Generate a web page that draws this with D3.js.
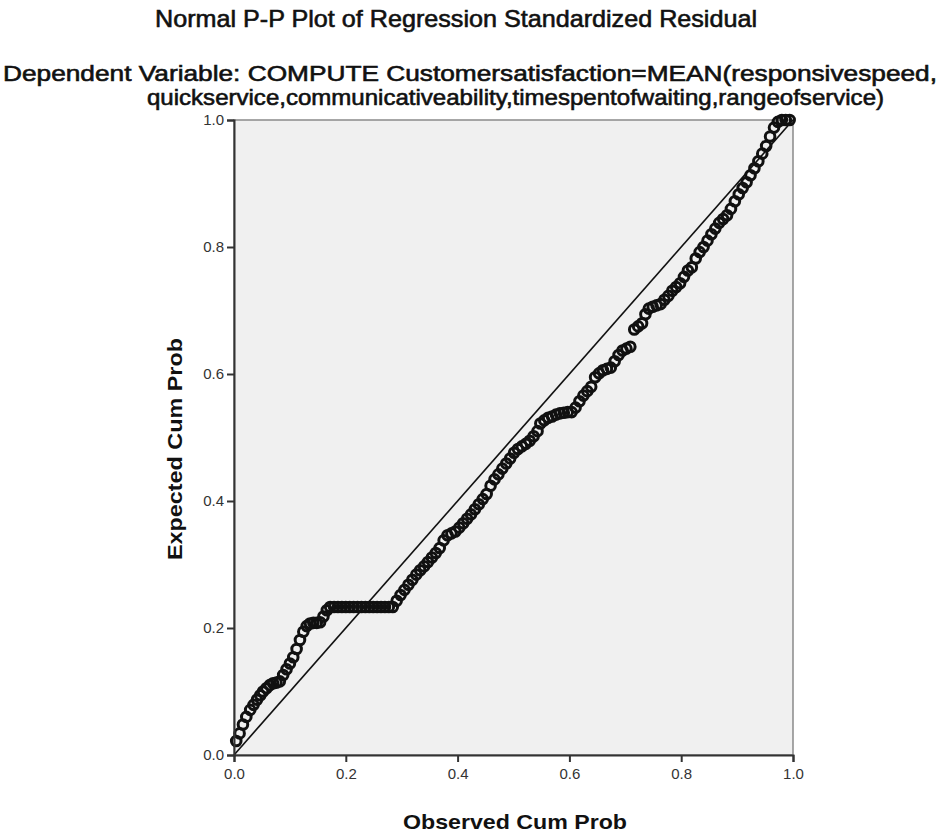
<!DOCTYPE html>
<html>
<head>
<meta charset="utf-8">
<script src="https://cdn.jsdelivr.net/npm/d3@7"></script>
<style>
  body { margin: 0; background: #fff; }
  text { font-family: "Liberation Sans", Arial, sans-serif; }
</style>
</head>
<body>
<div id="chart"></div>
<script>
const width = 940, height = 835;

// observed vs expected cumulative probability
const obsCumProb = [
  0.004, 0.010, 0.016, 0.022, 0.029, 0.035, 0.041, 0.047, 0.052, 0.058,
  0.064, 0.070, 0.076, 0.082, 0.088, 0.094, 0.100, 0.106, 0.112, 0.118,
  0.124, 0.130, 0.136, 0.142, 0.148, 0.154, 0.160, 0.166, 0.172, 0.179,
  0.186, 0.193, 0.200, 0.207, 0.214, 0.221, 0.228, 0.235, 0.242, 0.249,
  0.256, 0.263, 0.270, 0.277, 0.284, 0.291, 0.298, 0.305, 0.312, 0.319,
  0.326, 0.333, 0.340, 0.347, 0.354, 0.361, 0.368, 0.375, 0.382, 0.389,
  0.396, 0.403, 0.410, 0.417, 0.424, 0.431, 0.438, 0.445, 0.452, 0.459,
  0.466, 0.473, 0.480, 0.487, 0.494, 0.501, 0.508, 0.515, 0.522, 0.529,
  0.536, 0.543, 0.548, 0.555, 0.562, 0.569, 0.576, 0.583, 0.590, 0.597,
  0.604, 0.611, 0.618, 0.625, 0.632, 0.639, 0.646, 0.653, 0.660, 0.667,
  0.674, 0.681, 0.688, 0.695, 0.702, 0.709, 0.716, 0.723, 0.730, 0.736,
  0.742, 0.749, 0.756, 0.763, 0.770, 0.777, 0.784, 0.791, 0.798, 0.805,
  0.812, 0.819, 0.826, 0.833, 0.840, 0.847, 0.854, 0.861, 0.868, 0.875,
  0.882, 0.889, 0.896, 0.903, 0.910, 0.917, 0.924, 0.931, 0.938, 0.945,
  0.952, 0.959, 0.966, 0.973, 0.980, 0.987, 0.994
];
const expCumProb = [
  0.022, 0.034, 0.048, 0.060, 0.071, 0.079, 0.087, 0.094, 0.100, 0.105,
  0.110, 0.113, 0.114, 0.116, 0.126, 0.135, 0.144, 0.154, 0.167, 0.181,
  0.194, 0.203, 0.207, 0.208, 0.208, 0.209, 0.218, 0.228, 0.233, 0.233,
  0.233, 0.233, 0.233, 0.233, 0.233, 0.233, 0.233, 0.233, 0.233, 0.233,
  0.233, 0.233, 0.233, 0.233, 0.233, 0.243, 0.252, 0.260, 0.268, 0.276,
  0.284, 0.291, 0.297, 0.304, 0.311, 0.318, 0.326, 0.338, 0.346, 0.349,
  0.352, 0.358, 0.365, 0.372, 0.379, 0.387, 0.395, 0.403, 0.411, 0.424,
  0.434, 0.442, 0.451, 0.459, 0.467, 0.476, 0.482, 0.486, 0.490, 0.495,
  0.502, 0.510, 0.522, 0.527, 0.531, 0.533, 0.536, 0.538, 0.539, 0.540,
  0.540, 0.547, 0.557, 0.566, 0.573, 0.580, 0.595, 0.601, 0.606, 0.608,
  0.610, 0.620, 0.630, 0.637, 0.640, 0.643, 0.670, 0.675, 0.680, 0.694,
  0.703, 0.706, 0.708, 0.710, 0.717, 0.723, 0.731, 0.737, 0.743, 0.753,
  0.763, 0.768, 0.782, 0.792, 0.800, 0.810, 0.820, 0.829, 0.838, 0.844,
  0.850, 0.860, 0.872, 0.883, 0.893, 0.902, 0.913, 0.924, 0.935, 0.947,
  0.959, 0.974, 0.988, 0.997, 1.000, 1.000, 1.000
];
const tickValues = [0.0, 0.2, 0.4, 0.6, 0.8, 1.0];

const margin = {top: 120, right: 147, bottom: 80, left: 234};

const svg = d3.select("#chart").append("svg")
  .attr("width", width)
  .attr("height", height);

const x = d3.scaleLinear([0, 1], [margin.left, width - margin.right]);
const y = d3.scaleLinear([0, 1], [height - margin.bottom, margin.top]);

// titles (SPSS draws these a bit heavy, so a hairline stroke is added)
svg.append("text")
  .attr("x", 155).attr("y", 27)
  .attr("textLength", 602).attr("lengthAdjust", "spacingAndGlyphs")
  .style("font-size", "24px").style("fill", "#111")
  .style("stroke", "#111").style("stroke-width", "0.6px")
  .text("Normal P-P Plot of Regression Standardized Residual");

svg.append("text")
  .attr("x", 3).attr("y", 81)
  .attr("textLength", 934).attr("lengthAdjust", "spacingAndGlyphs")
  .style("font-size", "22px").style("fill", "#111")
  .style("stroke", "#111").style("stroke-width", "0.6px")
  .text("Dependent Variable: COMPUTE Customersatisfaction=MEAN(responsivespeed,");

svg.append("text")
  .attr("x", 147).attr("y", 105)
  .attr("textLength", 737).attr("lengthAdjust", "spacingAndGlyphs")
  .style("font-size", "22px").style("fill", "#111")
  .style("stroke", "#111").style("stroke-width", "0.6px")
  .text("quickservice,communicativeability,timespentofwaiting,rangeofservice)");

// plot background
svg.append("rect")
  .attr("x", x(0)).attr("y", y(1))
  .attr("width", x(1) - x(0)).attr("height", y(0) - y(1))
  .attr("fill", "#f0f0f0")
  .attr("stroke", "#8a8a8a")
  .attr("stroke-width", 1.5);

// reference line
svg.append("line")
  .attr("x1", x(0)).attr("y1", y(0))
  .attr("x2", x(1)).attr("y2", y(1))
  .attr("stroke", "#111")
  .attr("stroke-width", 1.6);

// points
svg.append("g")
  .selectAll("circle")
  .data(obsCumProb.map((d, i) => [d, expCumProb[i]]))
  .join("circle")
  .attr("cx", d => x(d[0]))
  .attr("cy", d => y(d[1]))
  .attr("r", 4.8)
  .attr("fill", "none")
  .attr("stroke", "#111")
  .attr("stroke-width", 3);

// axes
const xAxis = svg.append("g")
  .attr("transform", `translate(0,${y(0)})`)
  .call(d3.axisBottom(x).tickValues(tickValues).tickFormat(d3.format(".1f")).tickSize(7).tickPadding(6));
const yAxis = svg.append("g")
  .attr("transform", `translate(${x(0)},0)`)
  .call(d3.axisLeft(y).tickValues(tickValues).tickFormat(d3.format(".1f")).tickSize(7).tickPadding(3));

[xAxis, yAxis].forEach(a => {
  a.select(".domain").attr("stroke", "#333").attr("stroke-width", 2);
  a.selectAll(".tick line").attr("stroke", "#333").attr("stroke-width", 2);
  a.selectAll(".tick text")
    .style("font-size", "15px")
    .style("font-family", "'Liberation Sans', Arial, sans-serif")
    .attr("fill", "#333");
});

// axis titles
svg.append("text")
  .attr("x", 403).attr("y", 829)
  .attr("textLength", 224).attr("lengthAdjust", "spacingAndGlyphs")
  .style("font-size", "21px").style("font-weight", "bold").style("fill", "#111")
  .text("Observed Cum Prob");

svg.append("text")
  .attr("transform", `translate(182,560) rotate(-90)`)
  .attr("textLength", 222).attr("lengthAdjust", "spacingAndGlyphs")
  .style("font-size", "21px").style("font-weight", "bold").style("fill", "#111")
  .text("Expected Cum Prob");
</script>
</body>
</html>
